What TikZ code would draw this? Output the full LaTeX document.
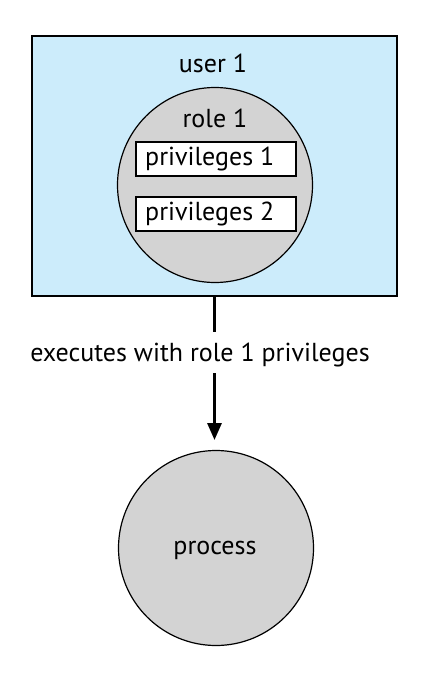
\documentclass[tikz,border=0pt]{standalone}
\usepackage{fontspec}
\setmainfont{PT Sans}
\usetikzlibrary{arrows.meta}
\definecolor{userblue}{RGB}{204,236,251}
\definecolor{rolegray}{RGB}{211,211,211}
\tikzset{
  txt/.style={font=\fontsize{26}{30}\selectfont, inner sep=0pt},
  circ/.style={circle, draw, line width=1.2pt, fill=rolegray, minimum size=195pt, inner sep=0pt},
  privbox/.style={draw, line width=1.2pt, fill=white, minimum width=160pt, minimum height=34pt, inner sep=0pt}
}
\begin{document}
\begin{tikzpicture}[x=1pt,y=-1pt,>={Triangle[width=14pt,length=17pt]}]
\useasboundingbox (0,0) rectangle (430,682);
\node[draw, line width=1.2pt, fill=userblue, minimum width=365pt, minimum height=260pt, inner sep=0pt] (user) at (214.5,166) {};
\node[txt] (userlbl) at (213,63) {user 1};
\node[circ] (role) at (215,185) {};
\node[txt] (rolelbl) at (215,118) {role 1};
\node[privbox] (priv1) at (216,159) {};
\node[txt, anchor=west] (priv1lbl) at (145,159) {privileges 1};
\node[privbox] (priv2) at (216,214) {};
\node[txt, anchor=west] (priv2lbl) at (145,214) {privileges 2};

\node[txt] (exec) at (200,355) {executes with role 1 privileges};
\node[circ] (proc) at (216,548) {};
\node[txt] (proclbl) at (215,550) {process};

\draw[line width=3pt] (user.south) coordinate (ua) -- (ua |- 0,332) coordinate (ub);
\draw[->, line width=3pt] (ua |- 0,373) coordinate (ac) -- (ac |- 0,440) coordinate (ad);
\end{tikzpicture}
\end{document}
